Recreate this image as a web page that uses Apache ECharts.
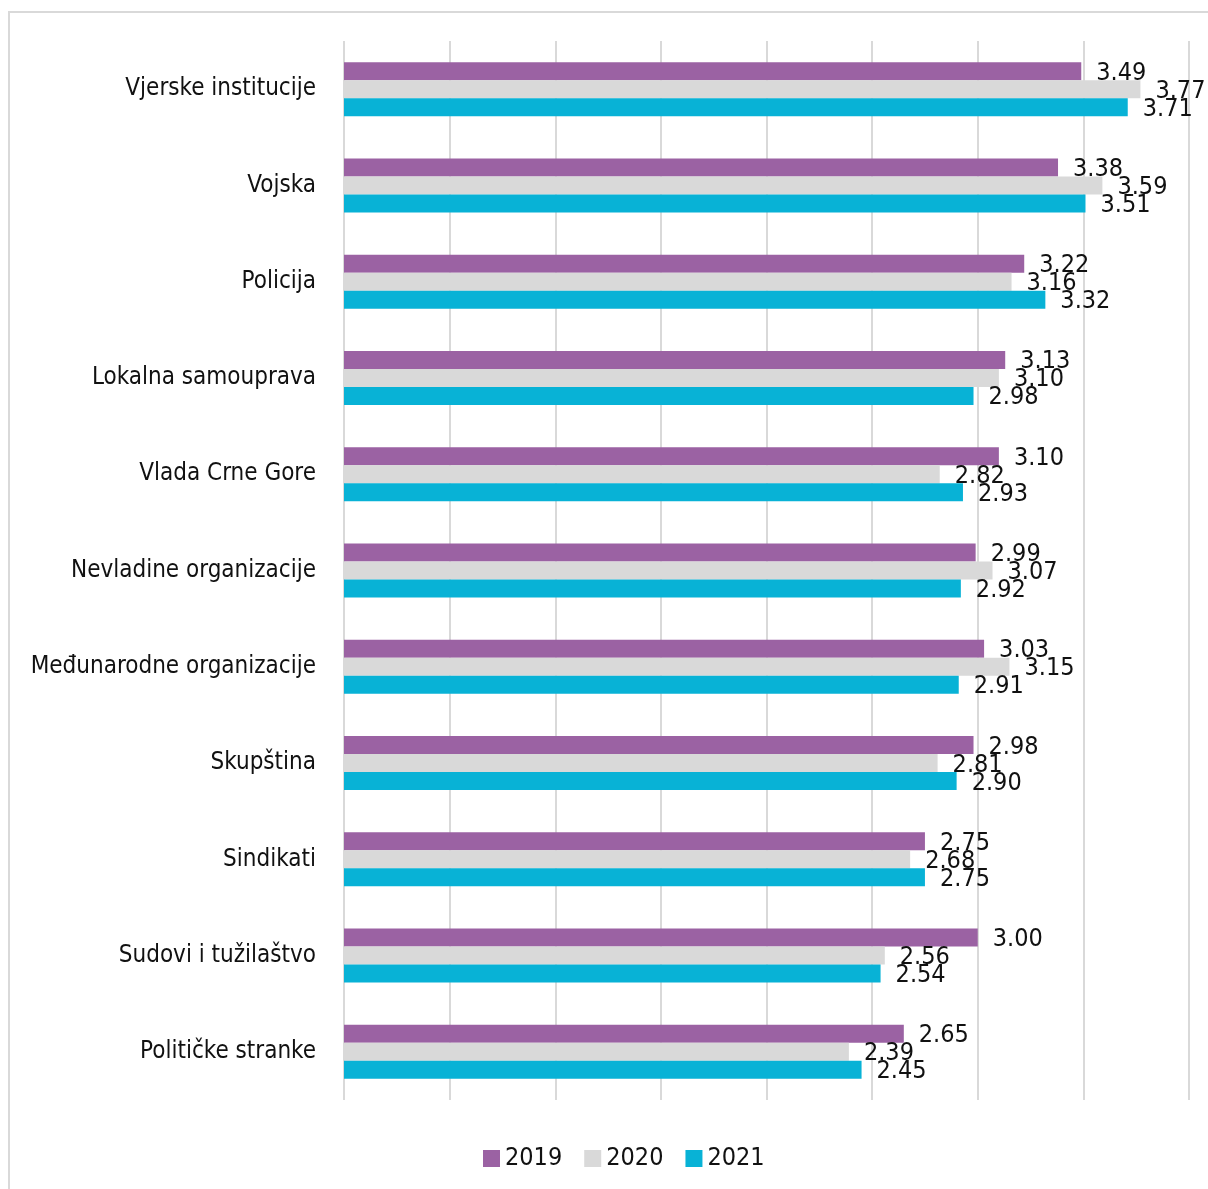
<!DOCTYPE html>
<html>
<head>
<meta charset="utf-8">
<script src="https://cdn.jsdelivr.net/npm/echarts@6/dist/echarts.min.js"></script>
<style>
  html, body { margin: 0; padding: 0; background: #fff; }
  #chart { width: 1208px; height: 1189px; }
</style>
</head>
<body>
<div id="chart"></div>
<script>
var categories = [
  'Vjerske institucije',
  'Vojska',
  'Policija',
  'Lokalna samouprava',
  'Vlada Crne Gore',
  'Nevladine organizacije',
  'Međunarodne organizacije',
  'Skupština',
  'Sindikati',
  'Sudovi i tužilaštvo',
  'Političke stranke'
]
var years = ['2019', '2020', '2021']
var data2019 = [3.49, 3.38, 3.22, 3.13, 3.10, 2.99, 3.03, 2.98, 2.75, 3.00, 2.65]
var data2020 = [3.77, 3.59, 3.16, 3.10, 2.82, 3.07, 3.15, 2.81, 2.68, 2.56, 2.39]
var data2021 = [3.71, 3.51, 3.32, 2.98, 2.93, 2.92, 2.91, 2.90, 2.75, 2.54, 2.45]
var colors = ['#9b62a3', '#d9d9d9', '#08b2d6']

var font = '"DejaVu Sans Condensed", "Liberation Sans Narrow", sans-serif'

function makeSeries(name, values, color) {
  return {
    name: name,
    type: 'bar',
    barWidth: 18,
    barGap: '0%',
    itemStyle: { color: color },
    label: {
      show: true,
      position: 'right',
      distance: 15,
      offset: [0, 2],
      color: '#111',
      fontFamily: font,
      fontSize: 25,
      formatter: function(p) {
        return p.value.toFixed(2)
      }
    },
    data: values
  }
}

var chart = echarts.init(document.getElementById('chart'))
chart.setOption({
  animation: false,
  textStyle: { fontFamily: font },
  graphic: [{
    type: 'rect',
    shape: { x: 9, y: 12, width: 1220, height: 1200 },
    style: { fill: 'none', stroke: '#d9d9d9', lineWidth: 2 }
  }],
  legend: {
    data: years,
    bottom: 13,
    left: 478,
    itemWidth: 17,
    itemHeight: 17,
    itemGap: 22,
    icon: 'rect',
    textStyle: { fontFamily: font, fontSize: 25, color: '#111' }
  },
  grid: {
    left: 344,
    right: 19,
    top: 41,
    bottom: 89,
    containLabel: false,
    outerBoundsMode: 'none'
  },
  xAxis: {
    type: 'value',
    min: 0,
    max: 4,
    interval: 0.5,
    axisLabel: { show: false },
    axisLine: { show: false },
    axisTick: { show: false },
    splitLine: { lineStyle: { color: '#d9d9d9', width: 2 } }
  },
  yAxis: {
    type: 'category',
    inverse: true,
    data: categories,
    axisLine: { show: false },
    axisTick: { show: false },
    axisLabel: {
      margin: 28,
      color: '#111',
      fontFamily: font,
      fontSize: 24,
      padding: [4, 0, 0, 0]
    }
  },
  series: [
    makeSeries(years[0], data2019, colors[0]),
    makeSeries(years[1], data2020, colors[1]),
    makeSeries(years[2], data2021, colors[2])
  ]
})
</script>
</body>
</html>
